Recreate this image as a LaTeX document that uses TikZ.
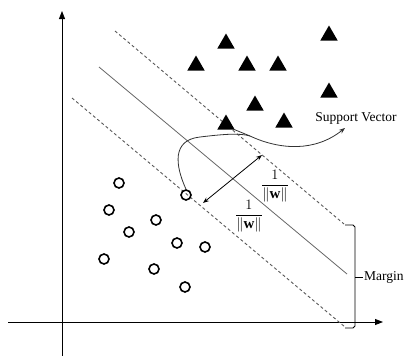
\documentclass[tikz,border=0pt]{standalone}
\usepackage{amsmath}
\usepackage{fontspec}
\setmainfont{Liberation Serif}
\usetikzlibrary{arrows.meta,shapes.geometric}
\begin{document}
\begin{tikzpicture}[x=1pt,y=-1pt,
 tri/.style={regular polygon,regular polygon sides=3,minimum size=20pt,inner sep=0pt,fill=black,draw=none},
 pt/.style={circle,draw=black,line width=1.6pt,minimum size=10pt,inner sep=0pt},
 axis/.style={line width=0.9pt,-{Triangle[length=8pt,width=6pt]}},
 dline/.style={black!65,dash pattern=on 3pt off 2.5pt,line width=0.9pt},
 sline/.style={black!60,line width=0.8pt},
 lbl/.style={font=\fontsize{13.5}{16}\selectfont,inner sep=1pt},
 frac/.style={font=\fontsize{15}{18}\selectfont,inner sep=0pt},
 conn/.style={line width=0.8pt,black!80}]
\useasboundingbox (0,0) rectangle (408,356);
% axes
\coordinate (yb) at (62,356);
\coordinate (yt) at (62,11);
\coordinate (xl) at (8,322);
\coordinate (xr) at (383,322);
\draw[axis] (yb) -- (yt);
\draw[axis] (xl) -- (xr);
% lines
\coordinate (u1) at (115,31);
\coordinate (u2) at (344,224);
\coordinate (m1) at (99,67);
\coordinate (m2) at (347,274);
\coordinate (l1) at (72,98);
\coordinate (l2) at (345,327);
\draw[dline] (u1) -- (u2);
\draw[sline] (m1) -- (m2);
\draw[dline] (l1) -- (l2);
% triangles
\node[tri] (t1) at (226,43.5) {};
\node[tri] (t2) at (329,35.5) {};
\node[tri] (t3) at (196,65.5) {};
\node[tri] (t4) at (247,65.5) {};
\node[tri] (t5) at (278,65.5) {};
\node[tri] (t6) at (329,92.5) {};
\node[tri] (t7) at (255,105.5) {};
\node[tri] (t8) at (226,124.5) {};
\node[tri] (t9) at (284,122.5) {};
% circles
\node[pt] (c1) at (119,183) {};
\node[pt] (c2) at (186,195) {};
\node[pt] (c3) at (109,210) {};
\node[pt] (c4) at (156,220) {};
\node[pt] (c5) at (129,232) {};
\node[pt] (c6) at (177,243) {};
\node[pt] (c7) at (205,247) {};
\node[pt] (c8) at (104,259) {};
\node[pt] (c9) at (154,269) {};
\node[pt] (c10) at (185,287) {};
% margin arrow
\coordinate (a1) at (203,203);
\coordinate (a2) at (262,155);
\draw[line width=0.8pt,{Stealth[length=6pt,width=4.5pt]}-{Stealth[length=6pt,width=4.5pt]}] (a1) -- (a2);
\node[frac] (f1) at (275,186) {$\dfrac{1}{\|\mathbf{w}\|}$};
\node[frac] (f2) at (249,216) {$\dfrac{1}{\|\mathbf{w}\|}$};
% support vector
\node[lbl] (sv) at (356,118) {Support Vector};
\coordinate (j) at (250,136);
\coordinate (tip) at (345,128);
\coordinate (t8e) at (233,129);
\draw[conn,-{Stealth[length=6pt,width=4.5pt]}] (c2.north) .. controls (175,165) and (172,140) .. (200,137) .. controls (225,134) and (240,133) .. (j) .. controls (280,150) and (315,152) .. (tip);
\draw[conn] (t8e) -- (j);
% brace
\coordinate (b1) at (345,225);
\coordinate (b2) at (345,328);
\coordinate (bm) at (355,277);
\draw[line width=0.8pt] (b1) -- (353,225) -- (355,227) -- (355,326) -- (353,328) -- (b2);
\node[lbl,anchor=west] (mg) at (363,277) {Margin};
\draw[line width=0.8pt] (bm) -- (mg.west);
\end{tikzpicture}
\end{document}
